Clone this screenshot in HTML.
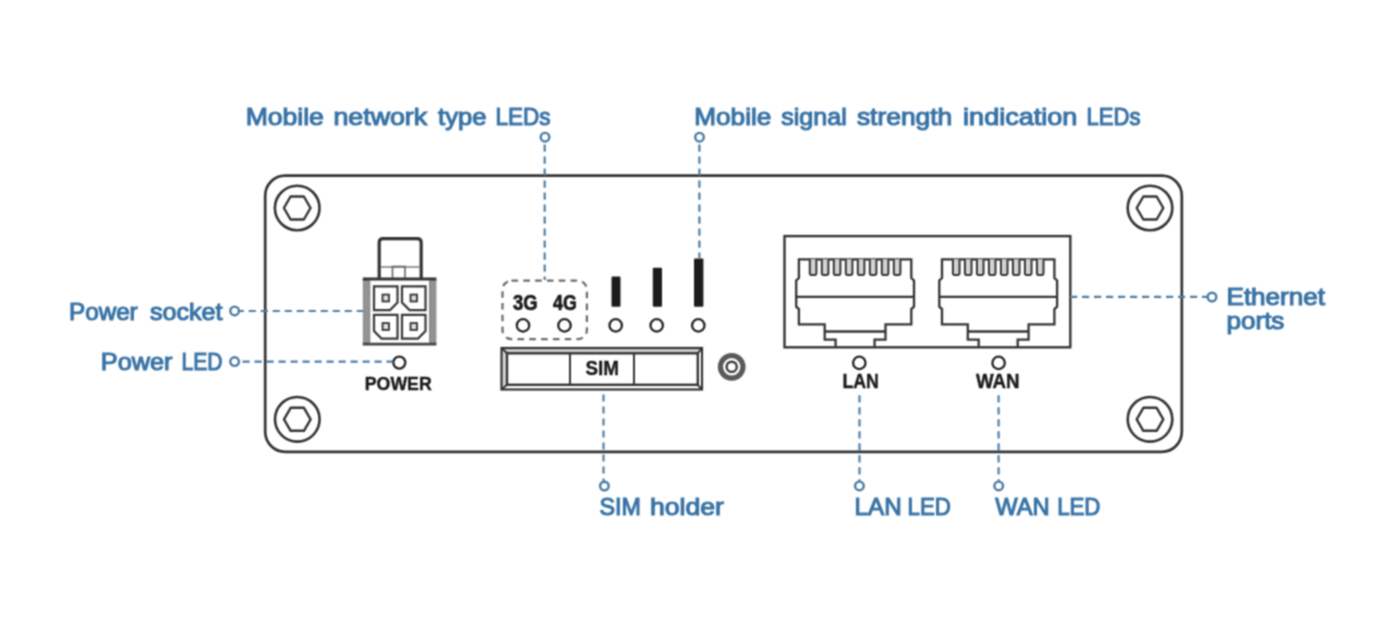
<!DOCTYPE html>
<html><head><meta charset="utf-8"><style>
html,body{margin:0;padding:0;background:#fff;}
body{width:1400px;height:642px;overflow:hidden;}
svg{display:block;}
text{font-family:"Liberation Sans",sans-serif;}
</style></head><body>
<svg width="1400" height="642" viewBox="0 0 1400 642">
<defs><filter id="soft" x="0" y="0" width="1400" height="642" filterUnits="userSpaceOnUse" color-interpolation-filters="sRGB"><feConvolveMatrix order="3" kernelMatrix="1 2 1 2 4 2 1 2 1" divisor="16" edgeMode="duplicate"/></filter></defs>
<g filter="url(#soft)">
<rect width="1400" height="642" fill="#fff"/>
<rect x="265.2" y="175.6" width="916.6" height="276.2" rx="20" fill="none" stroke="#333333" stroke-width="2.7"/>
<circle cx="297.2" cy="208" r="22.3" fill="none" stroke="#333333" stroke-width="2.6"/>
<polygon points="310.50,208.00 303.85,219.52 290.55,219.52 283.90,208.00 290.55,196.48 303.85,196.48" fill="none" stroke="#333333" stroke-width="2.4" stroke-linejoin="round"/>
<circle cx="1150" cy="208" r="22.3" fill="none" stroke="#333333" stroke-width="2.6"/>
<polygon points="1163.30,208.00 1156.65,219.52 1143.35,219.52 1136.70,208.00 1143.35,196.48 1156.65,196.48" fill="none" stroke="#333333" stroke-width="2.4" stroke-linejoin="round"/>
<circle cx="297.3" cy="419.3" r="22.3" fill="none" stroke="#333333" stroke-width="2.6"/>
<polygon points="310.60,419.30 303.95,430.82 290.65,430.82 284.00,419.30 290.65,407.78 303.95,407.78" fill="none" stroke="#333333" stroke-width="2.4" stroke-linejoin="round"/>
<circle cx="1150" cy="419.3" r="22.3" fill="none" stroke="#333333" stroke-width="2.6"/>
<polygon points="1163.30,419.30 1156.65,430.82 1143.35,430.82 1136.70,419.30 1143.35,407.78 1156.65,407.78" fill="none" stroke="#333333" stroke-width="2.4" stroke-linejoin="round"/>
<path d="M379.2,279 V242.5 Q379.2,238.6 383.1,238.6 H417.3 Q421.2,238.6 421.2,242.5 V279" fill="none" stroke="#333333" stroke-width="3.2"/>
<line x1="381" y1="267" x2="419.5" y2="267" stroke="#777" stroke-width="1.6"/>
<rect x="392.5" y="266.5" width="12.5" height="12.5" fill="none" stroke="#666" stroke-width="1.6"/>
<rect x="362.8" y="279.5" width="6.8" height="64.5" fill="#939393"/>
<rect x="429.8" y="279.5" width="6.6" height="64.5" fill="#939393"/>
<line x1="362.8" y1="279" x2="436.4" y2="279" stroke="#333333" stroke-width="3"/>
<line x1="362.8" y1="344.2" x2="436.4" y2="344.2" stroke="#444" stroke-width="2.8"/>
<line x1="369.8" y1="280" x2="369.8" y2="343.5" stroke="#777" stroke-width="1"/>
<line x1="429.7" y1="280" x2="429.7" y2="343.5" stroke="#777" stroke-width="1"/>
<path d="M374,286.3 H397.5 V302.6 L390.0,310.1 H374 Z" fill="none" stroke="#383838" stroke-width="2.2"/>
<rect x="382.55" y="294.59999999999997" width="6.4" height="6.8" fill="#e0e0e0" stroke="#383838" stroke-width="1.9"/>
<path d="M402,286.3 H425.5 V310.1 H409.5 L402,302.6 Z" fill="none" stroke="#383838" stroke-width="2.2"/>
<rect x="410.55" y="294.59999999999997" width="6.4" height="6.8" fill="#e0e0e0" stroke="#383838" stroke-width="1.9"/>
<path d="M374,314.8 H397.5 V338.6 H381.5 L374,331.1 Z" fill="none" stroke="#383838" stroke-width="2.2"/>
<rect x="382.55" y="323.09999999999997" width="6.4" height="6.8" fill="#e0e0e0" stroke="#383838" stroke-width="1.9"/>
<path d="M402,314.8 H425.5 V331.1 L418.0,338.6 H402 Z" fill="none" stroke="#383838" stroke-width="2.2"/>
<rect x="410.55" y="323.09999999999997" width="6.4" height="6.8" fill="#e0e0e0" stroke="#383838" stroke-width="1.9"/>
<circle cx="399.3" cy="362.6" r="6.0" fill="none" stroke="#222" stroke-width="2.3"/>
<rect x="502.5" y="280.6" width="84.4" height="58.5" rx="9" fill="none" stroke="#6a6a6a" stroke-width="2.2" stroke-dasharray="6.6 5.2"/>
<circle cx="523" cy="325.4" r="6.2" fill="none" stroke="#222" stroke-width="2.3"/>
<circle cx="564.5" cy="325.4" r="6.2" fill="none" stroke="#222" stroke-width="2.3"/>
<circle cx="615.7" cy="325.4" r="6.2" fill="none" stroke="#222" stroke-width="2.3"/>
<circle cx="656.7" cy="325.4" r="6.2" fill="none" stroke="#222" stroke-width="2.3"/>
<circle cx="698.3" cy="325.4" r="6.2" fill="none" stroke="#222" stroke-width="2.3"/>
<rect x="611.5" y="276.6" width="9" height="30.1" rx="1" fill="#1c1c1c"/>
<rect x="652.8" y="267.7" width="9.2" height="39" rx="1" fill="#1c1c1c"/>
<rect x="694" y="258.4" width="9.4" height="48.3" rx="1" fill="#1c1c1c"/>
<polygon points="501.5,348 702,348 697.8,353.3 507,353.3" fill="#cdcdcd"/>
<polygon points="501.5,348 507,353.3 507,384.8 501.5,389.5" fill="#d6d6d6"/>
<rect x="501.5" y="348" width="200.5" height="41.5" fill="none" stroke="#333333" stroke-width="2.2"/>
<rect x="507" y="353.3" width="190.8" height="31.5" fill="none" stroke="#333333" stroke-width="2.4"/>
<line x1="501.5" y1="348" x2="507" y2="353.3" stroke="#333333" stroke-width="2"/>
<line x1="501.5" y1="389.5" x2="507" y2="384.8" stroke="#333333" stroke-width="2"/>
<line x1="702" y1="348" x2="697.8" y2="353.3" stroke="#333333" stroke-width="2"/>
<line x1="702" y1="389.5" x2="697.8" y2="384.8" stroke="#333333" stroke-width="2"/>
<line x1="570" y1="353.3" x2="570" y2="384.8" stroke="#333333" stroke-width="2"/>
<line x1="634" y1="353.3" x2="634" y2="384.8" stroke="#333333" stroke-width="2"/>
<circle cx="731.7" cy="366.8" r="11.3" fill="none" stroke="#5a5a5a" stroke-width="5.2"/>
<circle cx="731.7" cy="366.8" r="5.1" fill="none" stroke="#3a3a3a" stroke-width="2.4"/>
<rect x="784.5" y="236.1" width="285.8" height="111.2" fill="none" stroke="#333333" stroke-width="2.4"/>
<path d="M835.6,347 V339.6 H824.7 V324.4 H798.9 V309 L796.2,306.7 V280.5 L798.9,278 V259.3 H911.3000000000001 V278 L914.0,280.5 V306.7 L911.3000000000001,309 V324.4 H885.5 V339.6 H874.6 V347" fill="none" stroke="#333333" stroke-width="2.3" stroke-linejoin="miter"/>
<line x1="796.2" y1="296.9" x2="914.0" y2="296.9" stroke="#333333" stroke-width="2.3"/>
<line x1="824.7" y1="331.5" x2="885.5" y2="331.5" stroke="#333333" stroke-width="2.3"/>
<path d="M809.8000000000001,259.3 V273 Q809.8000000000001,275 811.6,275 H814.6 Q816.4,275 816.4,273 V259.3" fill="#d4d4d4" stroke="#333333" stroke-width="2"/>
<path d="M821.8000000000001,259.3 V273 Q821.8000000000001,275 823.6,275 H826.6 Q828.4,275 828.4,273 V259.3" fill="#d4d4d4" stroke="#333333" stroke-width="2"/>
<path d="M833.8000000000001,259.3 V273 Q833.8000000000001,275 835.6,275 H838.6 Q840.4,275 840.4,273 V259.3" fill="#d4d4d4" stroke="#333333" stroke-width="2"/>
<path d="M845.8000000000001,259.3 V273 Q845.8000000000001,275 847.6,275 H850.6 Q852.4,275 852.4,273 V259.3" fill="#d4d4d4" stroke="#333333" stroke-width="2"/>
<path d="M857.8000000000001,259.3 V273 Q857.8000000000001,275 859.6,275 H862.6 Q864.4,275 864.4,273 V259.3" fill="#d4d4d4" stroke="#333333" stroke-width="2"/>
<path d="M869.8000000000001,259.3 V273 Q869.8000000000001,275 871.6,275 H874.6 Q876.4,275 876.4,273 V259.3" fill="#d4d4d4" stroke="#333333" stroke-width="2"/>
<path d="M881.8000000000001,259.3 V273 Q881.8000000000001,275 883.6,275 H886.6 Q888.4,275 888.4,273 V259.3" fill="#d4d4d4" stroke="#333333" stroke-width="2"/>
<path d="M893.8000000000001,259.3 V273 Q893.8000000000001,275 895.6,275 H898.6 Q900.4,275 900.4,273 V259.3" fill="#d4d4d4" stroke="#333333" stroke-width="2"/>
<path d="M978.7,347 V339.6 H967.8000000000001 V324.4 H942.0 V309 L939.3000000000001,306.7 V280.5 L942.0,278 V259.3 H1054.4 V278 L1057.1000000000001,280.5 V306.7 L1054.4,309 V324.4 H1028.6000000000001 V339.6 H1017.7 V347" fill="none" stroke="#333333" stroke-width="2.3" stroke-linejoin="miter"/>
<line x1="939.3000000000001" y1="296.9" x2="1057.1000000000001" y2="296.9" stroke="#333333" stroke-width="2.3"/>
<line x1="967.8000000000001" y1="331.5" x2="1028.6000000000001" y2="331.5" stroke="#333333" stroke-width="2.3"/>
<path d="M952.9000000000001,259.3 V273 Q952.9000000000001,275 954.7,275 H957.7 Q959.5,275 959.5,273 V259.3" fill="#d4d4d4" stroke="#333333" stroke-width="2"/>
<path d="M964.9000000000001,259.3 V273 Q964.9000000000001,275 966.7,275 H969.7 Q971.5,275 971.5,273 V259.3" fill="#d4d4d4" stroke="#333333" stroke-width="2"/>
<path d="M976.9000000000001,259.3 V273 Q976.9000000000001,275 978.7,275 H981.7 Q983.5,275 983.5,273 V259.3" fill="#d4d4d4" stroke="#333333" stroke-width="2"/>
<path d="M988.9000000000001,259.3 V273 Q988.9000000000001,275 990.7,275 H993.7 Q995.5,275 995.5,273 V259.3" fill="#d4d4d4" stroke="#333333" stroke-width="2"/>
<path d="M1000.9000000000001,259.3 V273 Q1000.9000000000001,275 1002.7,275 H1005.7 Q1007.5,275 1007.5,273 V259.3" fill="#d4d4d4" stroke="#333333" stroke-width="2"/>
<path d="M1012.9000000000001,259.3 V273 Q1012.9000000000001,275 1014.7,275 H1017.7 Q1019.5,275 1019.5,273 V259.3" fill="#d4d4d4" stroke="#333333" stroke-width="2"/>
<path d="M1024.9,259.3 V273 Q1024.9,275 1026.7,275 H1029.7 Q1031.5,275 1031.5,273 V259.3" fill="#d4d4d4" stroke="#333333" stroke-width="2"/>
<path d="M1036.9,259.3 V273 Q1036.9,275 1038.7,275 H1041.7 Q1043.5,275 1043.5,273 V259.3" fill="#d4d4d4" stroke="#333333" stroke-width="2"/>
<circle cx="859.3" cy="362.9" r="6.2" fill="none" stroke="#222" stroke-width="2.3"/>
<circle cx="998.6" cy="362.9" r="6.2" fill="none" stroke="#222" stroke-width="2.3"/>
<line x1="544.7" y1="144.5" x2="544.7" y2="280" stroke="#4b7ea8" stroke-width="2.2" stroke-dasharray="7.2 4.8"/>
<line x1="699.4" y1="144.5" x2="699.4" y2="258" stroke="#4b7ea8" stroke-width="2.2" stroke-dasharray="7.2 4.8"/>
<line x1="236.7" y1="311" x2="363" y2="311" stroke="#4b7ea8" stroke-width="2.2" stroke-dasharray="7.2 4.8"/>
<line x1="242.5" y1="361.7" x2="393" y2="361.7" stroke="#4b7ea8" stroke-width="2.2" stroke-dasharray="7.2 4.8"/>
<line x1="603.5" y1="394.4" x2="603.5" y2="481.5" stroke="#4b7ea8" stroke-width="2.2" stroke-dasharray="7.2 4.8"/>
<line x1="859.5" y1="395.3" x2="859.5" y2="481.5" stroke="#4b7ea8" stroke-width="2.2" stroke-dasharray="7.2 4.8"/>
<line x1="998.6" y1="395.3" x2="998.6" y2="481.5" stroke="#4b7ea8" stroke-width="2.2" stroke-dasharray="7.2 4.8"/>
<line x1="1070" y1="296.8" x2="1207.5" y2="296.8" stroke="#4b7ea8" stroke-width="2.2" stroke-dasharray="7.2 4.8"/>
<circle cx="545" cy="137.2" r="4.3" fill="#fff" stroke="#4a7ba3" stroke-width="2.4"/>
<circle cx="699.5" cy="137.2" r="4.3" fill="#fff" stroke="#4a7ba3" stroke-width="2.4"/>
<circle cx="234.6" cy="310.9" r="4.3" fill="#fff" stroke="#4a7ba3" stroke-width="2.4"/>
<circle cx="234.6" cy="361.6" r="4.3" fill="#fff" stroke="#4a7ba3" stroke-width="2.4"/>
<circle cx="604.4" cy="486" r="4.3" fill="#fff" stroke="#4a7ba3" stroke-width="2.4"/>
<circle cx="859.4" cy="485.9" r="4.3" fill="#fff" stroke="#4a7ba3" stroke-width="2.4"/>
<circle cx="998.7" cy="485.9" r="4.3" fill="#fff" stroke="#4a7ba3" stroke-width="2.4"/>
<circle cx="1212" cy="297" r="4.3" fill="#fff" stroke="#4a7ba3" stroke-width="2.4"/>
<text x="245.7" y="125.2" font-size="23.4" fill="#3a74a6" font-weight="normal" stroke="#3a74a6" stroke-width="1.1" textLength="78.2" lengthAdjust="spacingAndGlyphs">Mobile</text>
<text x="333.4" y="125.2" font-size="23.4" fill="#3a74a6" font-weight="normal" stroke="#3a74a6" stroke-width="1.1" textLength="93.8" lengthAdjust="spacingAndGlyphs">network</text>
<text x="438.1" y="125.2" font-size="23.4" fill="#3a74a6" font-weight="normal" stroke="#3a74a6" stroke-width="1.1" textLength="48.4" lengthAdjust="spacingAndGlyphs">type</text>
<text x="495.4" y="125.2" font-size="23.4" fill="#3a74a6" font-weight="normal" stroke="#3a74a6" stroke-width="1.1" textLength="55.0" lengthAdjust="spacingAndGlyphs">LEDs</text>
<text x="694.3" y="125.2" font-size="23.4" fill="#3a74a6" font-weight="normal" stroke="#3a74a6" stroke-width="1.1" textLength="77.0" lengthAdjust="spacingAndGlyphs">Mobile</text>
<text x="781.3" y="125.2" font-size="23.4" fill="#3a74a6" font-weight="normal" stroke="#3a74a6" stroke-width="1.1" textLength="65.4" lengthAdjust="spacingAndGlyphs">signal</text>
<text x="856.9" y="125.2" font-size="23.4" fill="#3a74a6" font-weight="normal" stroke="#3a74a6" stroke-width="1.1" textLength="95.4" lengthAdjust="spacingAndGlyphs">strength</text>
<text x="963.1" y="125.2" font-size="23.4" fill="#3a74a6" font-weight="normal" stroke="#3a74a6" stroke-width="1.1" textLength="114.2" lengthAdjust="spacingAndGlyphs">indication</text>
<text x="1086.6" y="125.2" font-size="23.4" fill="#3a74a6" font-weight="normal" stroke="#3a74a6" stroke-width="1.1" textLength="53.9" lengthAdjust="spacingAndGlyphs">LEDs</text>
<text x="69.0" y="320.0" font-size="23.4" fill="#3a74a6" font-weight="normal" stroke="#3a74a6" stroke-width="1.1" textLength="68.7" lengthAdjust="spacingAndGlyphs">Power</text>
<text x="149.9" y="320.0" font-size="23.4" fill="#3a74a6" font-weight="normal" stroke="#3a74a6" stroke-width="1.1" textLength="72.6" lengthAdjust="spacingAndGlyphs">socket</text>
<text x="100.8" y="370.4" font-size="23.4" fill="#3a74a6" font-weight="normal" stroke="#3a74a6" stroke-width="1.1" textLength="71.6" lengthAdjust="spacingAndGlyphs">Power</text>
<text x="181.5" y="370.4" font-size="23.4" fill="#3a74a6" font-weight="normal" stroke="#3a74a6" stroke-width="1.1" textLength="40.9" lengthAdjust="spacingAndGlyphs">LED</text>
<text x="599.4" y="514.8" font-size="23.4" fill="#3a74a6" font-weight="normal" stroke="#3a74a6" stroke-width="1.1" textLength="41.4" lengthAdjust="spacingAndGlyphs">SIM</text>
<text x="650.0" y="514.8" font-size="23.4" fill="#3a74a6" font-weight="normal" stroke="#3a74a6" stroke-width="1.1" textLength="73.9" lengthAdjust="spacingAndGlyphs">holder</text>
<text x="854.6" y="514.8" font-size="23.4" fill="#3a74a6" font-weight="normal" stroke="#3a74a6" stroke-width="1.1" textLength="47.1" lengthAdjust="spacingAndGlyphs">LAN</text>
<text x="907.6" y="514.8" font-size="23.4" fill="#3a74a6" font-weight="normal" stroke="#3a74a6" stroke-width="1.1" textLength="43.2" lengthAdjust="spacingAndGlyphs">LED</text>
<text x="995.2" y="514.8" font-size="23.4" fill="#3a74a6" font-weight="normal" stroke="#3a74a6" stroke-width="1.1" textLength="54.4" lengthAdjust="spacingAndGlyphs">WAN</text>
<text x="1057.2" y="514.8" font-size="23.4" fill="#3a74a6" font-weight="normal" stroke="#3a74a6" stroke-width="1.1" textLength="43.2" lengthAdjust="spacingAndGlyphs">LED</text>
<text x="1226.5" y="305.0" font-size="23.4" fill="#3a74a6" font-weight="normal" stroke="#3a74a6" stroke-width="1.1" textLength="98.5" lengthAdjust="spacingAndGlyphs">Ethernet</text>
<text x="1226.5" y="329.3" font-size="23.4" fill="#3a74a6" font-weight="normal" stroke="#3a74a6" stroke-width="1.1" textLength="57.9" lengthAdjust="spacingAndGlyphs">ports</text>
<text x="513.0" y="310.4" font-size="22" fill="#1a1a1a" font-weight="bold" stroke="#1a1a1a" stroke-width="0.7" textLength="24.6" lengthAdjust="spacingAndGlyphs">3G</text>
<text x="553.1" y="310.4" font-size="22" fill="#1a1a1a" font-weight="bold" stroke="#1a1a1a" stroke-width="0.7" textLength="23.8" lengthAdjust="spacingAndGlyphs">4G</text>
<text x="585.4" y="375.3" font-size="19.6" fill="#1a1a1a" font-weight="bold" stroke="#1a1a1a" stroke-width="0.4" textLength="33.5" lengthAdjust="spacingAndGlyphs">SIM</text>
<text x="364.8" y="390.4" font-size="18.2" fill="#1a1a1a" font-weight="bold" stroke="#1a1a1a" stroke-width="0.4" textLength="66.9" lengthAdjust="spacingAndGlyphs">POWER</text>
<text x="842.4" y="388.4" font-size="19.5" fill="#1a1a1a" font-weight="bold" stroke="#1a1a1a" stroke-width="0.4" textLength="36.5" lengthAdjust="spacingAndGlyphs">LAN</text>
<text x="976.0" y="388.4" font-size="19.5" fill="#1a1a1a" font-weight="bold" stroke="#1a1a1a" stroke-width="0.4" textLength="43.6" lengthAdjust="spacingAndGlyphs">WAN</text>
</g>
</svg>
</body></html>
